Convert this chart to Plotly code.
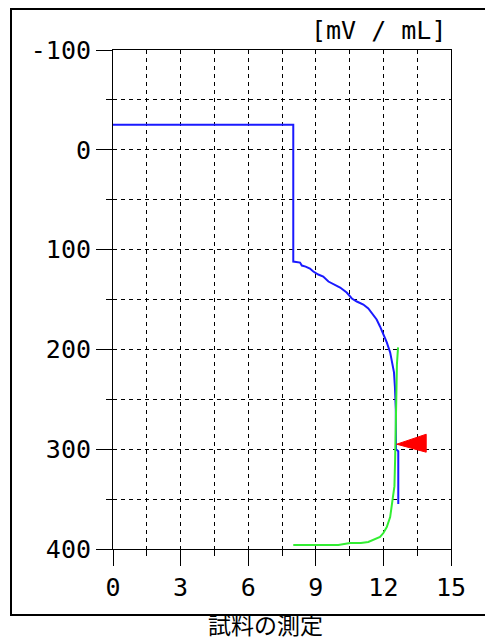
import plotly.graph_objects as go

# ---- data ----
blue_x = [0.0, 8.0, 8.0, 8.3, 8.38, 8.55, 8.74, 8.89, 9.11, 9.33, 9.56, 9.85, 10.08, 10.37, 10.6,
          10.82, 11.11, 11.33, 11.55, 11.7, 11.85, 12.0, 12.15, 12.3, 12.37, 12.44, 12.47, 12.51,
          12.55, 12.56, 12.66, 12.66]
blue_y = [-25, -25, 112, 113, 116, 117, 119, 122, 125, 127, 132, 135, 138, 143, 149,
          152, 155, 159, 165, 170, 177, 185, 193, 203, 210, 217, 223, 237,
          260, 300, 302, 355]

green_x = [8.0, 9.0, 10.0, 10.52, 11.0, 11.33, 11.7, 11.85, 12.0, 12.15, 12.3, 12.37, 12.44,
           12.49, 12.52, 12.55, 12.56, 12.58, 12.6, 12.62, 12.65]
green_y = [396, 396, 396, 394, 394, 393, 390, 388, 384, 378, 368, 358, 347,
           337, 310, 287, 270, 240, 215, 205, 198]

marker_x = [12.59, 13.9, 13.9, 12.59]
marker_y = [295, 285, 303, 295]

x_ticks = [0, 3, 6, 9, 12, 15]
y_ticks = [-100, 0, 100, 200, 300, 400]
unit_label = "[mV / mL]"
caption = "試料の測定"

# ---- figure ----
fig = go.Figure()
fig.add_trace(go.Scatter(x=blue_x, y=blue_y, mode="lines",
                         line=dict(color="#1a1aff", width=2), hoverinfo="skip"))
fig.add_trace(go.Scatter(x=green_x, y=green_y, mode="lines",
                         line=dict(color="#33ee33", width=2), hoverinfo="skip"))
fig.add_trace(go.Scatter(x=marker_x, y=marker_y, mode="lines", fill="toself",
                         fillcolor="#ff0000", line=dict(color="#ff0000", width=1), hoverinfo="skip"))

tickfont = dict(family="DejaVu Sans Mono", size=25, color="black")
grid = dict(gridcolor="black", griddash="4px,4px", gridwidth=1)

fig.update_xaxes(range=[0, 15], tickvals=x_ticks, ticktext=[str(v) for v in x_ticks],
                 ticks="outside", ticklen=16, tickcolor="black", tickwidth=1,
                 showline=True, linecolor="black", linewidth=1, mirror=True,
                 showgrid=True, zeroline=False, tickfont=tickfont,
                 minor=dict(tickvals=[1.5, 4.5, 7.5, 10.5, 13.5], ticks="outside", ticklen=6,
                            tickcolor="black", showgrid=True, **grid),
                 **grid)
fig.update_yaxes(range=[400, -100], tickvals=y_ticks, ticktext=[str(v) for v in y_ticks],
                 ticks="outside", ticklen=16, tickcolor="black", tickwidth=1,
                 showline=True, linecolor="black", linewidth=1, mirror=True,
                 showgrid=True, zeroline=False, tickfont=tickfont,
                 minor=dict(tickvals=[-50, 50, 150, 250, 350], ticks="outside", ticklen=6,
                            tickcolor="black", showgrid=True, **grid),
                 **grid)

OFF = 8  # page body margin
L, R, T, B = 113 - OFF, 451 - OFF, 50 - OFF, 549 - OFF
W, H = 493 - OFF, 642 - OFF
pw, ph = R - L, B - T

def px(x):
    return (x - OFF - L) / pw

def py(y):
    return (B - (y - OFF)) / ph

fig.add_shape(type="rect", xref="paper", yref="paper",
              x0=px(11), x1=px(505), y0=py(615), y1=py(9),
              line=dict(color="black", width=2), fillcolor="rgba(0,0,0,0)", layer="below")

fig.add_annotation(text=unit_label, xref="paper", yref="paper", x=px(448), y=py(47),
                   xanchor="right", yanchor="bottom", showarrow=False,
                   font=dict(family="DejaVu Sans Mono", size=25, color="black"))
fig.add_annotation(text=caption, xref="paper", yref="paper", x=px(265), y=py(642),
                   xanchor="center", yanchor="bottom", showarrow=False, borderpad=0,
                   font=dict(family="Noto Sans CJK JP", size=23, color="black"))

fig.update_layout(width=W, height=H, autosize=False,
                  margin=dict(l=L, r=W - R, t=T, b=H - B, pad=0),
                  paper_bgcolor="white", plot_bgcolor="white", showlegend=False)

fig.write_html("out.html")
